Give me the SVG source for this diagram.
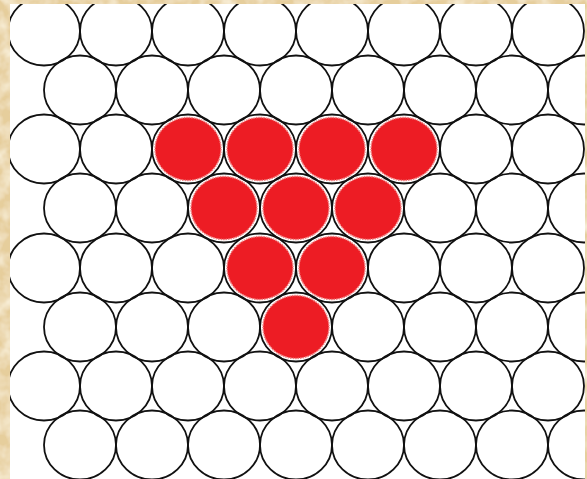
<svg xmlns="http://www.w3.org/2000/svg" width="587" height="479" viewBox="0 0 587 479">
<style>
.o{fill:none;stroke:#111;stroke-width:1.8}
.r{fill:#ED1C24;stroke:#F08080;stroke-width:1.5;stroke-dasharray:1.5 1}
.frame{fill:#E6CE9C;fill-rule:evenodd}
</style>
<defs>
<ellipse id="c" rx="36" ry="34.5"/>
<ellipse id="f" rx="33" ry="31.5"/>
<filter id="paper" x="0" y="0" width="100%" height="100%">
<feTurbulence type="fractalNoise" baseFrequency="0.06" numOctaves="3" seed="7" result="n"/>
<feColorMatrix in="n" type="matrix" values="0 0 0 0 0.97  0 0 0 0 0.9  0 0 0 0 0.74  0 0 0 1.6 -0.55" result="m"/>
<feComposite in="m" in2="SourceGraphic" operator="in" result="t"/>
<feMerge><feMergeNode in="SourceGraphic"/><feMergeNode in="t"/></feMerge>
</filter>
</defs>
<rect x="0" y="0" width="587" height="479" fill="#fff"/>
<g id="red-nodes">
<g id="n-r3-c2"><use href="#f" class="r" x="188" y="149"/><use href="#c" class="o" x="188" y="149"/></g>
<g id="n-r3-c3"><use href="#f" class="r" x="260" y="149"/><use href="#c" class="o" x="260" y="149"/></g>
<g id="n-r3-c4"><use href="#f" class="r" x="332" y="149"/><use href="#c" class="o" x="332" y="149"/></g>
<g id="n-r3-c5"><use href="#f" class="r" x="404" y="149"/><use href="#c" class="o" x="404" y="149"/></g>
<g id="n-r4-c2"><use href="#f" class="r" x="224" y="208"/><use href="#c" class="o" x="224" y="208"/></g>
<g id="n-r4-c3"><use href="#f" class="r" x="296" y="208"/><use href="#c" class="o" x="296" y="208"/></g>
<g id="n-r4-c4"><use href="#f" class="r" x="368" y="208"/><use href="#c" class="o" x="368" y="208"/></g>
<g id="n-r5-c3"><use href="#f" class="r" x="260" y="268"/><use href="#c" class="o" x="260" y="268"/></g>
<g id="n-r5-c4"><use href="#f" class="r" x="332" y="268"/><use href="#c" class="o" x="332" y="268"/></g>
<g id="n-r6-c3"><use href="#f" class="r" x="296" y="327"/><use href="#c" class="o" x="296" y="327"/></g>
</g>
<g id="white-nodes">
<g id="n-r1-c0"><use href="#c" class="o" x="44" y="31"/></g>
<g id="n-r1-c1"><use href="#c" class="o" x="116" y="31"/></g>
<g id="n-r1-c2"><use href="#c" class="o" x="188" y="31"/></g>
<g id="n-r1-c3"><use href="#c" class="o" x="260" y="31"/></g>
<g id="n-r1-c4"><use href="#c" class="o" x="332" y="31"/></g>
<g id="n-r1-c5"><use href="#c" class="o" x="404" y="31"/></g>
<g id="n-r1-c6"><use href="#c" class="o" x="476" y="31"/></g>
<g id="n-r1-c7"><use href="#c" class="o" x="548" y="31"/></g>
<g id="n-r2-c0"><use href="#c" class="o" x="80" y="90"/></g>
<g id="n-r2-c1"><use href="#c" class="o" x="152" y="90"/></g>
<g id="n-r2-c2"><use href="#c" class="o" x="224" y="90"/></g>
<g id="n-r2-c3"><use href="#c" class="o" x="296" y="90"/></g>
<g id="n-r2-c4"><use href="#c" class="o" x="368" y="90"/></g>
<g id="n-r2-c5"><use href="#c" class="o" x="440" y="90"/></g>
<g id="n-r2-c6"><use href="#c" class="o" x="512" y="90"/></g>
<g id="n-r2-c7"><use href="#c" class="o" x="584" y="90"/></g>
<g id="n-r3-c0"><use href="#c" class="o" x="44" y="149"/></g>
<g id="n-r3-c1"><use href="#c" class="o" x="116" y="149"/></g>
<g id="n-r3-c6"><use href="#c" class="o" x="476" y="149"/></g>
<g id="n-r3-c7"><use href="#c" class="o" x="548" y="149"/></g>
<g id="n-r4-c0"><use href="#c" class="o" x="80" y="208"/></g>
<g id="n-r4-c1"><use href="#c" class="o" x="152" y="208"/></g>
<g id="n-r4-c5"><use href="#c" class="o" x="440" y="208"/></g>
<g id="n-r4-c6"><use href="#c" class="o" x="512" y="208"/></g>
<g id="n-r4-c7"><use href="#c" class="o" x="584" y="208"/></g>
<g id="n-r5-c0"><use href="#c" class="o" x="44" y="268"/></g>
<g id="n-r5-c1"><use href="#c" class="o" x="116" y="268"/></g>
<g id="n-r5-c2"><use href="#c" class="o" x="188" y="268"/></g>
<g id="n-r5-c5"><use href="#c" class="o" x="404" y="268"/></g>
<g id="n-r5-c6"><use href="#c" class="o" x="476" y="268"/></g>
<g id="n-r5-c7"><use href="#c" class="o" x="548" y="268"/></g>
<g id="n-r6-c0"><use href="#c" class="o" x="80" y="327"/></g>
<g id="n-r6-c1"><use href="#c" class="o" x="152" y="327"/></g>
<g id="n-r6-c2"><use href="#c" class="o" x="224" y="327"/></g>
<g id="n-r6-c4"><use href="#c" class="o" x="368" y="327"/></g>
<g id="n-r6-c5"><use href="#c" class="o" x="440" y="327"/></g>
<g id="n-r6-c6"><use href="#c" class="o" x="512" y="327"/></g>
<g id="n-r6-c7"><use href="#c" class="o" x="584" y="327"/></g>
<g id="n-r7-c0"><use href="#c" class="o" x="44" y="386"/></g>
<g id="n-r7-c1"><use href="#c" class="o" x="116" y="386"/></g>
<g id="n-r7-c2"><use href="#c" class="o" x="188" y="386"/></g>
<g id="n-r7-c3"><use href="#c" class="o" x="260" y="386"/></g>
<g id="n-r7-c4"><use href="#c" class="o" x="332" y="386"/></g>
<g id="n-r7-c5"><use href="#c" class="o" x="404" y="386"/></g>
<g id="n-r7-c6"><use href="#c" class="o" x="476" y="386"/></g>
<g id="n-r7-c7"><use href="#c" class="o" x="548" y="386"/></g>
<g id="n-r8-c0"><use href="#c" class="o" x="80" y="445"/></g>
<g id="n-r8-c1"><use href="#c" class="o" x="152" y="445"/></g>
<g id="n-r8-c2"><use href="#c" class="o" x="224" y="445"/></g>
<g id="n-r8-c3"><use href="#c" class="o" x="296" y="445"/></g>
<g id="n-r8-c4"><use href="#c" class="o" x="368" y="445"/></g>
<g id="n-r8-c5"><use href="#c" class="o" x="440" y="445"/></g>
<g id="n-r8-c6"><use href="#c" class="o" x="512" y="445"/></g>
<g id="n-r8-c7"><use href="#c" class="o" x="584" y="445"/></g>
</g>
<g id="connectors"/>
<path class="frame" filter="url(#paper)" d="M0 0H587V479H0Z M10 4V479H585V4Z"/>
</svg>
